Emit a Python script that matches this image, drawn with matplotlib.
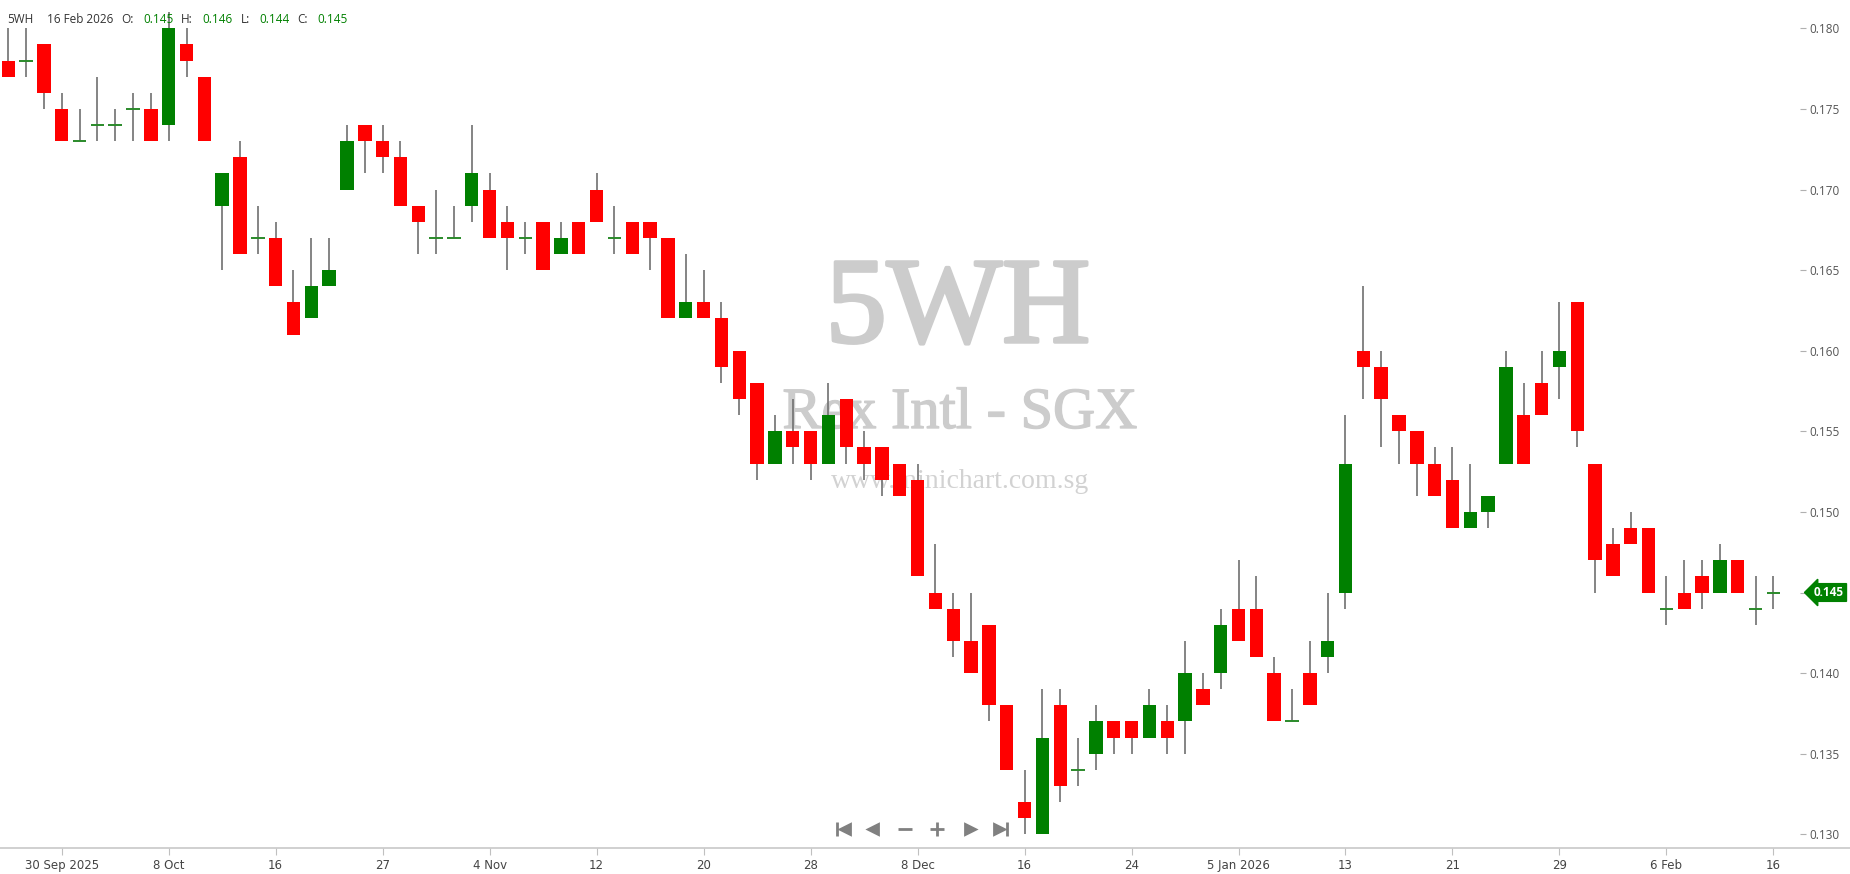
import numpy as np
import matplotlib
matplotlib.use('Agg')
from matplotlib import pyplot as plt
from matplotlib.lines import Line2D
import matplotlib.patheffects as pe

# daily OHLC, 25 Sep 2025 .. 16 Feb 2026 (SGX trading days)
opens = [0.178, 0.178, 0.179, 0.175, 0.173, 0.174, 0.174, 0.175, 0.175, 0.174,
         0.179, 0.177, 0.169, 0.172, 0.167, 0.167, 0.163, 0.162, 0.164, 0.170,
         0.174, 0.173, 0.172, 0.169, 0.167, 0.167, 0.169, 0.170, 0.168, 0.167,
         0.168, 0.166, 0.168, 0.170, 0.167, 0.168, 0.168, 0.167, 0.162, 0.163,
         0.162, 0.160, 0.158, 0.153, 0.155, 0.155, 0.153, 0.157, 0.154, 0.154,
         0.153, 0.152, 0.145, 0.144, 0.142, 0.143, 0.138, 0.132, 0.130, 0.138,
         0.134, 0.135, 0.137, 0.137, 0.136, 0.137, 0.137, 0.139, 0.140, 0.144,
         0.144, 0.140, 0.137, 0.140, 0.141, 0.145, 0.160, 0.159, 0.156, 0.155,
         0.153, 0.152, 0.149, 0.150, 0.153, 0.156, 0.158, 0.159, 0.163, 0.153,
         0.148, 0.149, 0.149, 0.144, 0.145, 0.146, 0.145, 0.147, 0.144, 0.145]
highs = [0.180, 0.180, 0.179, 0.176, 0.175, 0.177, 0.175, 0.176, 0.176, 0.181,
         0.180, 0.177, 0.171, 0.173, 0.169, 0.168, 0.165, 0.167, 0.167, 0.174,
         0.174, 0.174, 0.173, 0.169, 0.170, 0.169, 0.174, 0.171, 0.169, 0.168,
         0.168, 0.168, 0.168, 0.171, 0.169, 0.168, 0.168, 0.167, 0.166, 0.165,
         0.163, 0.160, 0.158, 0.156, 0.157, 0.155, 0.158, 0.157, 0.155, 0.154,
         0.153, 0.153, 0.148, 0.145, 0.145, 0.143, 0.138, 0.134, 0.139, 0.139,
         0.136, 0.138, 0.137, 0.137, 0.139, 0.138, 0.142, 0.140, 0.144, 0.147,
         0.146, 0.141, 0.139, 0.142, 0.145, 0.156, 0.164, 0.160, 0.156, 0.155,
         0.154, 0.154, 0.153, 0.151, 0.160, 0.158, 0.160, 0.163, 0.163, 0.153,
         0.149, 0.150, 0.149, 0.146, 0.147, 0.147, 0.148, 0.147, 0.146, 0.146]
lows = [0.177, 0.177, 0.175, 0.173, 0.173, 0.173, 0.173, 0.173, 0.173, 0.173,
        0.177, 0.173, 0.165, 0.166, 0.166, 0.164, 0.161, 0.162, 0.164, 0.170,
        0.171, 0.171, 0.169, 0.166, 0.166, 0.167, 0.168, 0.167, 0.165, 0.166,
        0.165, 0.166, 0.166, 0.168, 0.166, 0.166, 0.165, 0.162, 0.162, 0.162,
        0.158, 0.156, 0.152, 0.153, 0.153, 0.152, 0.153, 0.153, 0.152, 0.151,
        0.151, 0.146, 0.144, 0.141, 0.140, 0.137, 0.134, 0.130, 0.130, 0.132,
        0.133, 0.134, 0.135, 0.135, 0.136, 0.135, 0.135, 0.138, 0.139, 0.142,
        0.141, 0.137, 0.137, 0.138, 0.140, 0.144, 0.157, 0.154, 0.153, 0.151,
        0.151, 0.149, 0.149, 0.149, 0.153, 0.153, 0.156, 0.157, 0.154, 0.145,
        0.146, 0.148, 0.145, 0.143, 0.144, 0.144, 0.145, 0.145, 0.143, 0.144]
closes = [0.177, 0.178, 0.176, 0.173, 0.173, 0.174, 0.174, 0.175, 0.173, 0.180,
          0.178, 0.173, 0.171, 0.166, 0.167, 0.164, 0.161, 0.164, 0.165, 0.173,
          0.173, 0.172, 0.169, 0.168, 0.167, 0.167, 0.171, 0.167, 0.167, 0.167,
          0.165, 0.167, 0.166, 0.168, 0.167, 0.166, 0.167, 0.162, 0.163, 0.162,
          0.159, 0.157, 0.153, 0.155, 0.154, 0.153, 0.156, 0.154, 0.153, 0.152,
          0.151, 0.146, 0.144, 0.142, 0.140, 0.138, 0.134, 0.131, 0.136, 0.133,
          0.134, 0.137, 0.136, 0.136, 0.138, 0.136, 0.140, 0.138, 0.143, 0.142,
          0.141, 0.137, 0.137, 0.138, 0.142, 0.153, 0.159, 0.157, 0.155, 0.153,
          0.151, 0.149, 0.150, 0.151, 0.159, 0.153, 0.156, 0.160, 0.155, 0.147,
          0.146, 0.148, 0.145, 0.144, 0.144, 0.145, 0.147, 0.145, 0.144, 0.145]

tick_idx = [3, 9, 15, 21, 27, 33, 39, 45, 51, 57, 63, 69, 75, 81, 87, 93, 99]
tick_labels = ['30 Sep 2025', '8 Oct', '16', '27', '4 Nov', '12', '20', '28', '8 Dec',
               '16', '24', '5 Jan 2026', '13', '21', '29', '6 Feb', '16']
price_ticks = [0.130, 0.135, 0.140, 0.145, 0.150, 0.155, 0.160, 0.165, 0.170, 0.175, 0.180]

symbol = '5WH'
company = 'Rex Intl - SGX'
site = 'www.minichart.com.sg'
last_date = '16 Feb 2026'

RED = '#ff0000'
GREEN = '#008000'
SANS = ['Open Sans', 'DejaVu Sans']
NARROW = ['Liberation Sans Narrow', 'DejaVu Sans']
SERIF = ['Liberation Serif', 'DejaVu Serif']

W, H = 1850, 874
def fx(px):
    return px / W
def fy(py):
    return 1 - py / H

fig = plt.figure(figsize=(W / 100, H / 100), dpi=100)
fig.patch.set_facecolor('white')
ax = fig.add_axes([0, fy(848), fx(1800), 848 / H])

o = np.array(opens)
h = np.array(highs)
l = np.array(lows)
c = np.array(closes)
x = np.arange(len(o))
flat = np.isclose(o, c)
bar_w = 0.75

ax.vlines(x, l, h, color='#707070', lw=1.2, zorder=1)
body_lo = np.minimum(o, c)
body_h = np.abs(c - o)
cols = np.where(c > o, GREEN, RED)
ax.bar(x[~flat], body_h[~flat], bottom=body_lo[~flat], width=bar_w,
       color=cols[~flat], lw=0, zorder=2)
ax.hlines(o[flat], x[flat] - bar_w / 2, x[flat] + bar_w / 2, color='#2a8a2a', lw=1.4, zorder=2)

ax.set_xlim(-0.46, 100.49)
ax.set_ylim(0.12915, 0.181756)
for s in ax.spines.values():
    s.set_visible(False)

# y axis on the right
last = closes[-1]
ax.yaxis.tick_right()
ax.set_yticks(price_ticks)
ax.set_yticklabels(['' if abs(p - last) < 1e-9 else '%.3f' % p for p in price_ticks],
                   fontfamily=SANS)
ax.tick_params(axis='y', length=4, width=0.8, color='#b0b0b0', pad=3,
               labelsize=8.5, labelcolor='#555555')

ax.set_xticks(tick_idx)
ax.set_xticklabels(tick_labels, fontfamily=NARROW)
ax.tick_params(axis='x', length=5, width=0.8, color='#c0c0c0', pad=3,
               labelsize=8.5, labelcolor='#444444')

fig.add_artist(Line2D([0, 1], [fy(848), fy(848)], transform=fig.transFigure,
                      color='#c8c8c8', lw=1.2))

# last price tag
ax.text(1 + 14 / 1800, last, '%.3f' % last, transform=ax.get_yaxis_transform(),
        ha='left', va='center', color='white', fontsize=8.5, fontweight='bold',
        family=SANS, zorder=5,
        bbox=dict(boxstyle='larrow,pad=0.2', fc=GREEN, ec=GREEN))

# watermark (thickened a little, the original serif is heavier)
ax.text(fx(958), fy(342), symbol, transform=fig.transFigure, ha='center', va='baseline',
        fontsize=88, color='#cccccc', family=SERIF, zorder=0,
        path_effects=[pe.withStroke(linewidth=2.5, foreground='#cccccc')])
ax.text(fx(960), fy(428), company, transform=fig.transFigure, ha='center', va='baseline',
        fontsize=42, color='#cccccc', family=SERIF, zorder=0,
        path_effects=[pe.withStroke(linewidth=1.0, foreground='#cccccc')])
ax.text(fx(960), fy(488), site, transform=fig.transFigure, ha='center', va='baseline',
        fontsize=20, color='#d2d2d2', family=SERIF, zorder=0)

# header
hdr = [(7, symbol, '#333333'), (47, last_date, '#333333'),
       (121, 'O:', '#333333'), (143, '%.3f' % opens[-1], GREEN),
       (181, 'H:', '#333333'), (202, '%.3f' % highs[-1], GREEN),
       (241, 'L:', '#333333'), (259, '%.3f' % lows[-1], GREEN),
       (297, 'C:', '#333333'), (317, '%.3f' % closes[-1], GREEN)]
for px, s, col in hdr:
    fig.text(fx(px), fy(23), s, ha='left', va='baseline', fontsize=8.5, color=col, family=SANS)

# navigation buttons
ny = fy(829)
nav = [(837, '|', 10), (845, '<', 7), (873, '<', 7), (905, '_', 10),
       (937, '+', 10), (970, '>', 7), (999, '>', 7), (1007, '|', 10)]
for px, m, ms in nav:
    fig.add_artist(Line2D([fx(px)], [ny], transform=fig.transFigure, marker=m, ms=ms,
                          mew=2.0, color='#808080', mfc='#808080', mec='#808080', ls='none'))

fig.savefig('out.png', dpi=100, facecolor='white')
